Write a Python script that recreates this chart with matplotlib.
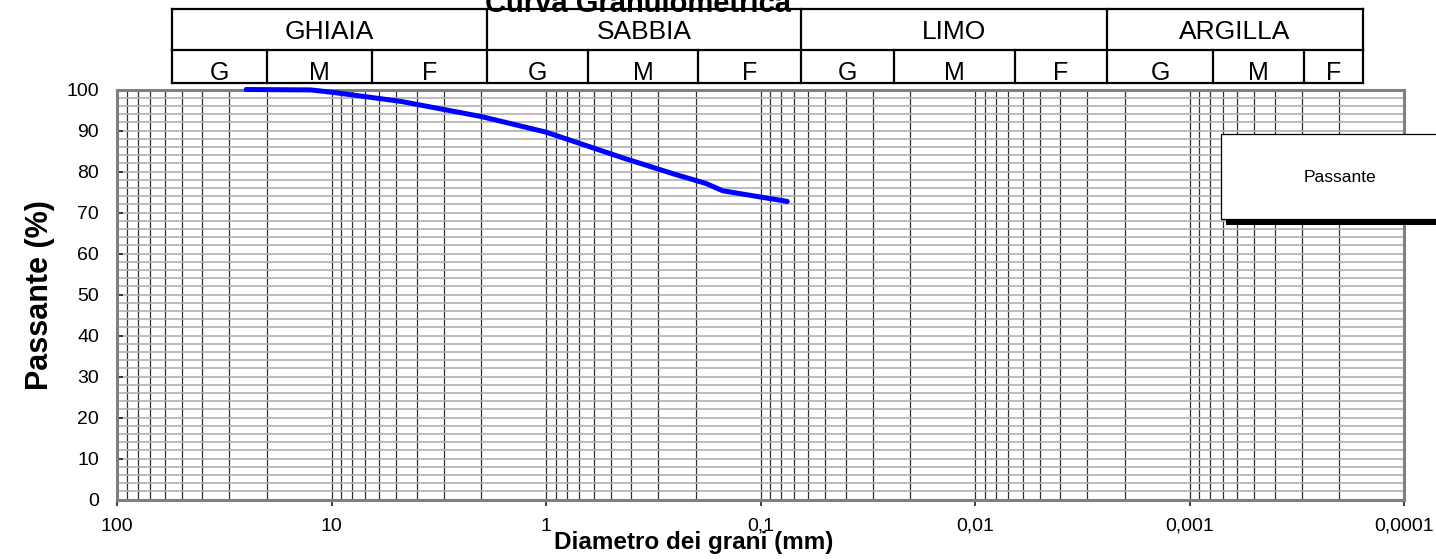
import matplotlib
matplotlib.use('Agg')
import matplotlib.pyplot as plt
from matplotlib.patches import Rectangle
from matplotlib.ticker import FixedLocator, NullFormatter

plt.rcParams['font.family'] = ['Liberation Sans', 'DejaVu Sans']

# grain size curve (sieve openings in mm, % passing)
diametro = [25, 12.5, 9.5, 4.75, 2, 1, 0.425, 0.25, 0.18, 0.15, 0.075]
passante = [100, 99.9, 99.2, 97.1, 93.4, 89.6, 83.1, 79.3, 77.1, 75.3, 72.7]

x_ticks = [100, 10, 1, 0.1, 0.01, 0.001, 0.0001]
x_ticklabels = ['100', '10', '1', '0,1', '0,01', '0,001', '0,0001']
y_ticks = list(range(0, 101, 10))

# classification header (pixel positions of the drawn table)
classi = ['GHIAIA', 'SABBIA', 'LIMO', 'ARGILLA']
classi_edges = [172, 487, 801, 1107, 1363]
sotto = ['G', 'M', 'F'] * 4
sotto_edges = [172, 267, 372, 487, 588, 698, 801, 894, 1015, 1107, 1213, 1304, 1363]

W, H = 1436, 559
fig = plt.figure(figsize=(W / 100, H / 100), dpi=100)

# ==============================================================================
# main chart
x0, x1, ytop, ybot = 117, 1404, 89.5, 499.5
ax = fig.add_axes([x0 / W, 1 - ybot / H, (x1 - x0) / W, (ybot - ytop) / H])
ax.set_xscale('log')
ax.set_xlim(100, 0.0001)
ax.set_ylim(0, 100)

minor_x = [m * 10.0 ** e for e in range(-4, 2) for m in range(2, 10)]
ax.xaxis.set_major_locator(FixedLocator(x_ticks))
ax.xaxis.set_minor_locator(FixedLocator(minor_x))
ax.set_xticklabels(x_ticklabels)
ax.xaxis.set_minor_formatter(NullFormatter())
ax.set_yticks(y_ticks)
ax.yaxis.set_minor_locator(FixedLocator(list(range(0, 101, 2))))

ax.grid(True, axis='y', which='both', color='#b0b0b0', lw=1.2, zorder=1)
ax.grid(True, axis='x', which='both', color='#303030', lw=0.9, zorder=2)
ax.set_axisbelow(True)

ax.tick_params(axis='x', which='major', direction='out', length=4, width=1.2,
               color='#202020', labelsize=14, pad=9)
ax.tick_params(axis='y', which='major', direction='in', length=4, width=1.2,
               color='#202020', labelsize=14, pad=13)
ax.tick_params(which='minor', length=0)
for s in ax.spines.values():
    s.set_color('#808080')
    s.set_linewidth(2.2)

ax.plot(diametro, passante, color='#0000ff', lw=3.6, solid_capstyle='round',
        solid_joinstyle='round', clip_on=False, zorder=5)

# ==============================================================================
# overlay: title, labels, header table, legend
ov = fig.add_axes([0, 0, 1, 1], facecolor='none')
ov.set_xlim(0, W)
ov.set_ylim(H, 0)
ov.axis('off')

ov.text(638, 12, 'Curva Granulometrica', ha='center', va='baseline',
        fontsize=21, fontweight='bold')
ov.text(40, 295, 'Passante (%)', ha='center', va='center', rotation=90,
        fontsize=22, fontweight='bold')
ov.text(694, 549, 'Diametro dei grani (mm)', ha='center', va='baseline',
        fontsize=17.5, fontweight='bold')

t_top, t_mid, t_bot = 9, 50, 83
lk = dict(color='black', lw=1.6, solid_capstyle='projecting')
ov.plot([classi_edges[0], classi_edges[-1]], [t_top, t_top], **lk)
ov.plot([classi_edges[0], classi_edges[-1]], [t_mid, t_mid], **lk)
ov.plot([classi_edges[0], classi_edges[-1]], [t_bot, t_bot], **lk)
for xe in classi_edges:
    ov.plot([xe, xe], [t_top, t_mid], **lk)
for xe in sotto_edges:
    ov.plot([xe, xe], [t_mid, t_bot], **lk)
for i, name in enumerate(classi):
    ov.text((classi_edges[i] + classi_edges[i + 1]) / 2, 39, name,
            ha='center', va='baseline', fontsize=19)
for i, name in enumerate(sotto):
    ov.text((sotto_edges[i] + sotto_edges[i + 1]) / 2, 79.5, name,
            ha='center', va='baseline', fontsize=18)

# legend box with shadow
ov.add_patch(Rectangle((1226, 139), 230, 86, facecolor='black', edgecolor='none', zorder=6))
ov.add_patch(Rectangle((1221, 134), 230, 85, facecolor='white', edgecolor='black',
                       lw=0.9, zorder=7))
ov.text(1340, 177, 'Passante', ha='center', va='center', fontsize=12.5, zorder=8)

fig.savefig('out.png', dpi=100)
